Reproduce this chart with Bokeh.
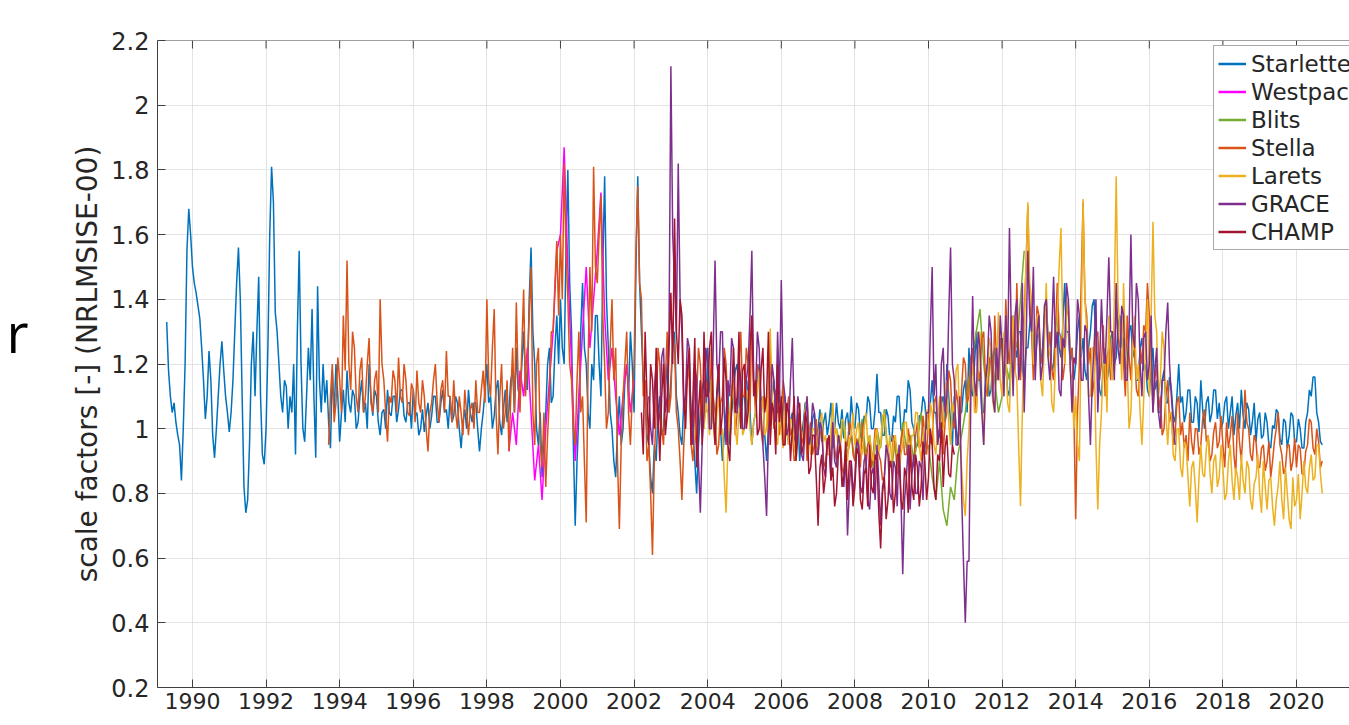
from bokeh.plotting import figure
from bokeh.models import Range1d, FixedTicker, Legend, Span, LinearAxis
from bokeh.embed import file_html
from bokeh.resources import INLINE

# ---------------- data ----------------
x_ticks = [1990, 1992, 1994, 1996, 1998, 2000, 2002, 2004, 2006, 2008, 2010,
           2012, 2014, 2016, 2018, 2020]
y_ticks = [0.2, 0.4, 0.6, 0.8, 1.0, 1.2, 1.4, 1.6, 1.8, 2.0, 2.2]
y_tick_labels = ["0.2", "0.4", "0.6", "0.8", "1", "1.2", "1.4", "1.6", "1.8", "2", "2.2"]

series_names = ["Starlette", "Westpac", "Blits", "Stella", "Larets", "GRACE", "CHAMP"]
series_colors = ["#0072BD", "#FF00FF", "#77AC30", "#D95319", "#EDB120", "#7E2F8E", "#A2142F"]

# Starlette: from 1989.30, every 0.05 year
starlette_start, starlette_step = 1989.3, 0.05
starlette = [
    1.33, 1.18, 1.10, 1.05, 1.08, 1.02, 0.98, 0.95, 0.84, 1.00, 1.20, 1.55, 1.68, 1.60,
    1.50, 1.45, 1.42, 1.38, 1.34, 1.25, 1.15, 1.03, 1.10, 1.24, 1.15, 0.98, 0.91, 1.00, 1.10, 1.20, 1.27, 1.18, 1.10, 1.05,
    0.99, 1.05, 1.15, 1.30, 1.45, 1.56, 1.40, 1.10, 0.82, 0.74, 0.78, 0.95, 1.20, 1.30, 1.10, 1.30, 1.47, 1.10, 0.92, 0.89,
    1.00, 1.25, 1.60, 1.81, 1.70, 1.36, 1.30, 1.20, 1.10, 1.05, 1.15, 1.13, 1.00, 1.10, 1.05, 1.20, 0.92, 1.30, 1.55, 1.20,
    1.00, 0.96, 1.10, 1.25, 1.15, 1.37, 1.10, 0.91, 1.44, 1.15, 1.05, 1.20, 1.08, 1.15, 1.02, 0.94, 1.18, 1.05, 1.20, 1.10,
    0.96, 1.05, 1.12, 1.02, 1.18, 1.08, 1.05, 1.12, 1.10, 1.00, 1.02, 1.10, 1.15, 1.05, 1.08, 1.00, 1.20, 1.10, 1.04, 1.12,
    1.10, 1.02, 0.98, 1.05, 1.06, 1.00, 1.12, 1.05, 1.04, 1.10, 1.10, 1.02, 1.06, 1.12, 1.12, 1.04, 1.02, 1.08, 1.08, 1.00,
    1.12, 1.04, 1.05, 0.98, 1.00, 1.06, 0.99, 1.04, 1.08, 1.00, 1.04, 1.10, 1.10, 1.02, 1.02, 1.08, 1.12, 1.05, 1.06, 1.00,
    1.10, 1.02, 1.04, 1.10, 1.08, 1.00, 0.94, 1.02, 1.06, 1.00, 1.12, 1.05, 1.02, 1.08, 1.08, 1.00, 0.93, 1.00, 1.05, 1.12,
    1.20, 1.08, 1.10, 1.00, 1.04, 1.12, 1.15, 1.02, 0.98, 1.06, 1.12, 1.02, 1.06, 1.15, 1.18, 1.05, 1.25, 1.12, 1.10, 1.20,
    1.30, 1.15, 1.12, 1.40, 1.56, 1.30, 1.20, 1.00, 0.95, 1.05, 0.85, 0.98, 1.05, 1.20, 1.25, 1.08, 1.10, 1.25, 1.35, 1.20,
    1.40, 1.25, 1.20, 1.55, 1.80, 1.45, 1.30, 0.95, 0.70, 0.90, 1.05, 1.30, 1.45, 1.25, 1.20, 1.05, 1.00, 1.20, 1.15, 1.35,
    1.35, 1.20, 1.10, 1.50, 1.78, 1.40, 1.25, 1.05, 1.00, 0.90, 0.85, 1.00, 1.10, 0.95, 1.00, 1.15, 1.20, 1.10, 1.30, 1.20,
    1.05, 1.50, 1.78, 1.45, 1.30, 1.15, 1.10, 0.98, 0.95, 0.85, 0.80, 0.95, 0.90, 1.05, 1.10, 0.98, 1.00, 1.12, 1.20, 1.05,
    1.15, 1.25, 1.30, 1.10, 1.05, 0.98, 0.95, 1.08, 1.10, 1.18, 1.20, 1.05, 1.00, 0.90, 0.80, 0.95, 1.05, 1.12, 1.15, 1.05,
    1.25, 1.12, 1.10, 1.02, 1.00, 1.10, 1.15, 1.00, 0.90, 0.98, 1.05, 1.12, 0.95, 1.05, 1.10, 1.18, 1.20, 1.08, 1.00, 1.10,
    1.10, 1.02, 1.15, 1.05, 0.95, 1.02, 1.05, 1.15, 1.20, 1.08, 1.10, 0.98, 0.90, 1.00, 1.00, 1.10, 1.15, 1.05, 1.05, 1.12,
    1.00, 1.08, 1.10, 1.00, 0.95, 1.02, 1.05, 0.96, 0.98, 1.05, 0.90, 0.98, 1.02, 1.08, 1.08, 1.00, 0.95, 1.03, 1.05, 0.98,
    1.00, 1.06, 0.96, 1.02, 1.05, 0.98, 1.02, 1.08, 0.94, 1.00, 1.08, 1.02, 1.00, 1.06, 0.97, 1.03, 1.05, 0.98, 1.10, 1.02,
    1.00, 1.08, 1.06, 0.98, 0.96, 1.04, 1.02, 1.10, 1.08, 1.00, 1.00, 1.06, 1.17, 1.05, 1.05, 0.98, 0.98, 1.06, 1.04, 0.97,
    0.96, 1.04, 1.02, 1.10, 1.10, 1.00, 0.98, 1.06, 1.05, 1.15, 1.12, 1.02, 1.00, 0.94, 0.95, 1.04, 1.04, 1.10, 1.08, 1.00,
    1.00, 1.08, 1.15, 1.05, 1.05, 0.96, 0.98, 1.08, 1.10, 1.02, 1.20, 1.10, 1.02, 0.95, 1.10, 1.00, 0.95, 1.05, 1.05, 1.12,
    1.15, 1.05, 1.25, 1.12, 1.10, 1.20, 1.30, 1.15, 1.15, 1.05, 1.05, 1.15, 1.20, 1.10, 1.12, 1.22, 1.25, 1.15, 1.18, 1.25,
    1.28, 1.18, 1.20, 1.12, 1.10, 1.22, 1.35, 1.25, 1.22, 1.30, 1.30, 1.18, 1.15, 1.25, 1.25, 1.32, 1.38, 1.25, 1.20, 1.28,
    1.30, 1.20, 1.25, 1.35, 1.40, 1.28, 1.28, 1.18, 1.20, 1.30, 1.35, 1.25, 1.22, 1.32, 1.45, 1.30, 1.30, 1.20, 1.25, 1.15,
    1.20, 1.30, 1.35, 1.22, 1.28, 1.18, 1.15, 1.25, 1.30, 1.38, 1.40, 1.25, 1.20, 1.12, 1.10, 1.20, 1.25, 1.15, 1.18, 1.28,
    1.30, 1.20, 1.22, 1.32, 1.35, 1.25, 1.28, 1.18, 1.20, 1.30, 1.32, 1.22, 1.25, 1.15, 1.15, 1.25, 1.28, 1.18, 1.20, 1.12,
    1.10, 1.20, 1.25, 1.12, 1.15, 1.05, 1.05, 1.15, 1.18, 1.08, 1.08, 1.16, 1.12, 1.04, 1.02, 1.10, 1.20, 1.08, 1.10, 1.02,
    1.05, 1.12, 1.12, 1.02, 1.02, 1.10, 1.08, 0.99, 1.15, 1.06, 1.00, 1.08, 1.10, 1.02, 1.05, 1.12, 1.12, 1.03, 1.08, 1.00,
    1.02, 1.08, 1.10, 1.00, 1.05, 1.10, 0.98, 1.04, 1.08, 1.00, 1.12, 1.04, 1.00, 1.08, 1.06, 0.98, 1.02, 1.08, 0.96, 1.03,
    1.05, 0.97, 0.98, 1.05, 1.02, 0.95, 0.94, 1.01, 1.00, 1.06, 1.05, 0.97, 0.95, 1.03, 1.02, 0.94, 0.98, 1.05, 1.04, 0.96,
    0.96, 1.03, 1.00, 0.94, 0.94, 1.02, 1.05, 1.12, 1.10, 1.16, 1.16, 1.05, 1.02, 0.96, 0.95,
]

# Westpac: from 1998.6, every 0.1 year
westpac_start, westpac_step = 1998.6, 0.1
westpac = [
    0.93, 1.05, 0.95, 1.18,
    1.10, 1.25, 1.05, 0.84, 0.95, 0.78, 1.00, 1.15, 1.30, 1.55,
    1.60, 1.87, 1.50, 1.20, 0.90, 1.10, 1.30, 1.50, 1.25, 1.40,
    1.55, 1.73, 1.35, 1.15, 1.25, 1.10, 0.98, 1.10, 1.20, 1.05,
    1.15,
]

# Blits: from 2007.5, every 0.1 year
blits_start, blits_step = 2007.5, 0.1
blits = [
    1.00, 0.95, 1.02, 0.92, 0.98,
    0.90, 0.96, 1.03, 0.92, 0.98, 0.88, 1.00, 0.94, 1.06, 0.92,
    0.88, 0.96, 0.90, 1.02, 0.94, 0.98, 0.90, 0.96, 1.05, 0.92,
    0.95, 0.85, 0.78, 0.90, 0.75, 0.70, 0.82, 0.78, 0.92, 0.98,
    1.05, 1.15, 1.22, 1.30, 1.37, 1.20, 1.10, 1.25, 1.15, 1.05,
    1.10, 1.20, 1.15, 1.30, 1.25, 1.40, 1.55,
]

# Stella: from 1993.7, every 0.05 year
stella_start, stella_step = 1993.7, 0.05
stella = [
    0.95, 1.10, 1.20, 1.02, 1.08, 1.22,
    1.15, 1.05, 1.35, 1.18, 1.52, 1.20, 1.12, 1.30, 1.25, 1.10, 1.05, 1.18, 1.22, 1.05, 1.10, 1.20, 1.28, 1.08, 1.05, 1.15,
    1.18, 1.05, 1.40, 1.20, 1.15, 1.05, 0.96, 1.10, 1.08, 1.18, 1.15, 1.05, 1.22, 1.10, 1.08, 1.20, 1.15, 1.05, 1.04, 1.14,
    1.12, 1.02, 1.18, 1.08, 1.05, 1.15, 1.10, 1.00, 0.93, 1.05, 1.08, 1.15, 1.20, 1.08, 1.02, 1.12, 1.15, 1.05, 1.24, 1.10,
    1.10, 1.02, 1.15, 1.05, 1.00, 1.10, 1.05, 0.98, 1.12, 1.05, 0.98, 1.06, 1.08, 1.00, 1.15, 1.05, 1.05, 1.12, 1.18, 1.08,
    1.40, 1.15, 1.10, 1.25, 1.37, 1.05, 0.92, 1.10, 1.20, 1.00, 1.05, 1.15, 0.93, 1.10, 1.25, 1.05, 1.39, 1.15, 1.05, 1.25,
    1.43, 1.10, 1.20, 1.35, 1.50, 1.05, 0.95, 1.20, 1.25, 0.95, 0.88, 1.05, 0.82, 0.98, 1.10, 1.30, 1.30, 1.45, 1.58, 1.35,
    1.60, 1.40, 1.82, 1.55, 1.40, 1.20, 1.15, 1.00, 0.95, 1.15, 1.30, 1.05, 1.10, 0.90, 0.71, 1.20, 1.50, 1.30, 1.81, 1.50,
    1.45, 1.60, 1.72, 1.35, 1.20, 1.00, 1.05, 1.25, 1.40, 1.15, 1.25, 0.90, 0.69, 0.95, 1.10, 1.20, 1.30, 1.05, 0.95, 1.10,
    1.20, 1.55, 1.75, 1.45, 1.40, 1.10, 1.15, 0.90, 0.95, 0.80, 0.61, 0.90, 1.05, 1.25, 1.20, 1.00, 0.95, 1.15, 1.30, 1.05,
    1.10, 1.30, 1.25, 1.05, 1.00, 0.90, 0.78, 0.95, 1.05, 1.20, 1.15, 0.95, 0.90, 1.05, 1.10, 1.25, 1.20, 1.05, 1.00, 1.12,
    1.15, 1.00, 1.25, 1.10, 1.05, 0.92, 0.95, 1.08, 1.10, 1.25, 1.20, 1.05, 1.00, 1.12, 1.15, 0.98, 1.05, 1.20, 1.30, 1.10,
    1.10, 1.25, 1.20, 1.05, 1.35, 1.15, 1.05, 1.20, 1.15, 1.00, 0.95, 1.08, 1.10, 0.98, 1.25, 1.10, 1.00, 1.12, 1.10, 0.98,
    1.05, 1.15, 0.95, 1.05, 1.10, 0.98, 1.00, 0.90, 0.92, 1.02, 1.05, 0.95, 0.98, 1.06, 0.90, 0.98, 1.02, 0.92, 0.95, 1.03,
    0.92, 0.98, 1.00, 0.90, 0.88, 0.96, 0.95, 0.88, 1.02, 0.94, 0.90, 0.98, 0.97, 0.88, 0.86, 0.94, 0.95, 1.02, 1.00, 0.92,
    0.90, 0.97, 0.95, 0.88, 1.02, 0.94, 0.88, 0.95, 0.96, 0.88, 0.92, 1.00, 1.00, 0.92, 0.90, 0.84, 0.85, 0.93, 0.95, 0.88,
    0.90, 0.98, 0.95, 0.86, 0.88, 0.96, 1.00, 0.92, 0.92, 1.00, 0.96, 0.88, 0.90, 0.98, 1.02, 0.94, 0.95, 1.04, 0.98, 0.92,
    1.05, 0.96, 0.95, 1.08, 1.10, 0.98, 1.00, 1.10, 0.92, 1.02, 1.05, 1.18, 1.15, 1.02, 1.00, 1.12, 1.08, 0.98, 1.12, 1.22,
    1.20, 1.08, 1.10, 1.22, 1.25, 1.12, 1.05, 1.18, 1.15, 1.28, 1.30, 1.15, 1.10, 1.22, 1.20, 1.08, 1.35, 1.20, 1.15, 1.28,
    1.25, 1.12, 1.40, 1.25, 1.20, 1.35, 1.30, 1.18, 1.45, 1.25, 1.15, 1.30, 1.35, 1.50, 1.69, 1.40, 1.30, 1.15, 1.25, 1.38,
    1.35, 1.22, 1.20, 1.32, 1.40, 1.25, 1.30, 1.18, 1.15, 1.30, 1.45, 1.30, 1.28, 1.15, 1.20, 1.35, 1.38, 1.22, 1.25, 1.05,
    0.72, 1.05, 1.20, 1.45, 1.70, 1.40, 1.35, 1.20, 1.25, 1.10, 1.15, 1.28, 1.30, 1.15, 1.20, 1.32, 1.10, 1.22, 1.25, 1.15,
    1.30, 1.18, 1.40, 1.28, 1.25, 1.35, 1.20, 1.10, 1.35, 1.22, 1.15, 1.30, 1.25, 1.12, 1.10, 1.25, 1.20, 1.32, 1.30, 1.45,
    1.35, 1.18, 1.05, 1.15, 1.20, 1.05, 1.10, 0.98, 1.00, 1.10, 1.15, 1.02, 1.05, 0.95, 0.98, 1.08, 1.10, 0.98, 1.02, 0.94,
    0.98, 0.90, 1.05, 0.96, 0.92, 1.00, 1.00, 0.92, 0.95, 1.03, 1.06, 0.96, 0.98, 0.90, 0.92, 0.99, 1.02, 0.94, 0.96, 1.04,
    0.95, 0.88, 1.02, 0.94, 0.98, 1.04, 0.92, 0.86, 1.05, 0.96, 0.90, 1.00, 1.12, 1.02, 1.00, 0.92, 0.90, 0.98, 0.96, 0.88,
    0.88, 0.94, 0.95, 0.87, 0.90, 0.96, 0.85, 0.90, 0.96, 1.00, 1.05, 0.95, 0.92, 0.86, 0.88, 0.95, 0.95, 0.87, 0.90, 0.97,
    0.88, 0.95, 0.94, 0.86, 0.86, 0.93, 0.95, 1.03, 1.02, 0.94, 0.92, 1.00, 0.96, 0.88, 0.90,
]

# Larets: from 2003.6, every 0.05 year
larets_start, larets_step = 2003.6, 0.05
larets = [
    1.05, 0.98, 0.95, 1.08, 1.10, 1.00, 1.00, 1.08,
    1.05, 0.98, 1.15, 1.02, 0.95, 1.05, 1.10, 0.98, 1.00, 0.85, 0.74, 0.95, 1.05, 1.12, 1.15, 1.00, 0.95, 1.05, 1.08, 0.98,
    1.00, 1.08, 1.12, 1.00, 0.95, 1.02, 1.05, 1.12, 1.18, 1.05, 1.10, 0.98, 1.00, 1.15, 1.31, 1.10, 1.05, 0.98, 0.95, 1.05,
    1.00, 0.94, 1.08, 1.00, 0.95, 1.03, 1.02, 0.95, 0.90, 0.98, 1.05, 0.97, 0.98, 1.06, 1.10, 0.98, 0.92, 1.00, 1.00, 0.94,
    0.95, 1.02, 1.05, 0.96, 0.98, 0.92, 0.92, 1.00, 1.08, 0.98, 1.00, 0.93, 0.95, 1.03, 1.02, 0.94, 0.90, 0.97, 0.98, 1.05,
    0.95, 1.00, 1.02, 0.94, 0.92, 1.00, 1.05, 0.96, 0.98, 0.92, 0.90, 0.97, 1.00, 0.93, 0.95, 1.04, 1.05, 0.97, 0.92, 0.98,
    0.90, 0.96, 0.98, 0.90, 0.85, 0.92, 0.95, 1.02, 1.02, 0.94, 0.92, 0.98, 0.98, 1.05, 1.05, 0.95, 0.90, 0.97, 1.00, 1.06,
    0.98, 1.08, 1.05, 0.95, 0.92, 1.02, 1.10, 1.00, 1.00, 1.12, 1.15, 1.02, 0.95, 1.08, 1.05, 1.18, 1.20, 1.00, 0.88, 0.78,
    0.73, 0.90, 1.00, 1.15, 1.20, 1.05, 1.05, 1.20, 1.30, 1.10, 0.95, 1.12, 1.15, 1.28, 1.25, 1.08, 1.05, 1.20, 1.36, 1.15,
    1.10, 1.30, 1.25, 1.08, 1.05, 1.22, 1.35, 1.18, 1.15, 0.95, 0.76, 1.05, 1.30, 1.50, 1.70, 1.45, 1.40, 1.20, 1.20, 1.35,
    1.30, 1.15, 1.10, 1.28, 1.45, 1.22, 1.25, 1.08, 1.05, 1.20, 1.35, 1.50, 1.62, 1.30, 1.20, 1.35, 1.40, 1.18, 1.15, 1.00,
    1.10, 0.95, 0.90, 1.30, 1.71, 1.40, 1.30, 1.10, 1.10, 1.25, 1.25, 0.95, 0.75, 0.95, 1.05, 1.20, 1.20, 1.05, 1.35, 1.20,
    1.15, 1.40, 1.78, 1.40, 1.30, 1.15, 1.45, 1.25, 1.20, 1.00, 1.05, 1.25, 1.35, 1.15, 1.20, 1.05, 0.95, 1.10, 1.25, 1.40,
    1.10, 1.35, 1.64, 1.35, 1.30, 1.10, 1.15, 1.30, 1.25, 1.05, 0.95, 1.05, 1.05, 0.92, 0.90, 1.00, 1.00, 0.88, 0.85, 0.96,
    0.95, 0.85, 0.76, 0.88, 0.90, 0.82, 0.71, 0.85, 0.95, 0.86, 0.85, 0.94, 0.98, 0.86, 0.80, 0.90, 0.92, 0.82, 0.85, 0.95,
    0.88, 0.78, 0.80, 0.90, 0.95, 0.84, 0.78, 0.88, 0.85, 0.78, 0.92, 0.84, 0.80, 0.90, 0.88, 0.78, 0.75, 0.83, 0.85, 0.92,
    0.80, 0.74, 0.90, 0.82, 0.75, 0.84, 0.85, 0.76, 0.70, 0.78, 0.82, 0.90, 0.78, 0.72, 0.88, 0.80, 0.72, 0.69, 0.85, 0.76,
    0.78, 0.86, 0.72, 0.80, 0.90, 0.82, 0.80, 0.88, 0.92, 0.84, 0.85, 0.95, 0.95, 0.86, 0.80,
]

# GRACE: from 2002.4, every 0.05 year
grace_start, grace_step = 2002.4, 0.05
grace = [
    1.10, 1.00, 0.95, 1.12, 1.20, 1.00, 1.05, 1.22, 1.25, 1.05, 1.10, 1.30,
    2.12, 1.60, 1.45, 1.30, 1.82, 1.40, 1.30, 1.05, 1.10, 1.28, 1.25, 1.00, 0.95, 1.20, 1.15, 0.90, 0.74, 0.95, 1.05, 1.25,
    1.20, 1.00, 1.00, 1.25, 1.52, 1.20, 1.15, 1.30, 1.30, 1.05, 0.95, 1.15, 1.10, 1.28, 1.25, 1.05, 1.05, 1.20, 1.15, 1.00,
    1.00, 1.15, 1.20, 1.35, 1.55, 1.15, 1.10, 1.30, 1.25, 1.05, 0.95, 0.85, 0.73, 0.98, 1.05, 1.20, 1.15, 1.02, 1.30, 1.10,
    1.46, 1.15, 1.10, 0.98, 1.00, 1.15, 1.28, 1.05, 0.95, 1.10, 1.05, 0.92, 0.90, 1.02, 1.10, 0.95, 0.98, 1.08, 1.05, 0.92,
    0.92, 1.02, 1.00, 0.88, 0.85, 0.97, 0.95, 0.84, 1.02, 0.90, 0.88, 0.98, 0.95, 0.85, 0.82, 0.92, 0.67, 0.82, 0.90, 0.80,
    0.85, 0.96, 0.95, 0.82, 0.80, 0.90, 0.92, 0.78, 0.75, 0.86, 0.88, 0.78, 0.95, 0.84, 0.70, 0.82, 0.85, 0.95, 0.92, 0.80,
    0.78, 0.90, 0.88, 0.76, 0.95, 0.80, 0.55, 0.78, 0.85, 0.95, 0.75, 0.86, 0.92, 0.80, 0.80, 0.90, 0.88, 0.78, 0.95, 1.05,
    1.05, 1.30, 1.50, 1.10, 1.20, 0.95, 1.00, 1.20, 1.25, 1.05, 1.10, 1.35, 1.56, 1.20, 1.15, 0.95, 0.95, 1.10, 0.80, 0.59,
    0.40, 0.59, 0.59, 1.10, 1.41, 1.15, 1.10, 1.30, 1.25, 1.05, 0.95, 1.15, 1.20, 1.35, 1.30, 1.10, 1.05, 1.25, 1.15, 1.35,
    1.25, 1.10, 1.35, 1.20, 1.62, 1.30, 1.10, 1.35, 1.40, 1.15, 1.20, 1.45, 1.05, 1.25, 1.55, 1.35, 1.30, 1.50, 1.15, 1.30,
    1.35, 1.15, 1.20, 1.38, 1.40, 1.22, 1.15, 1.30, 1.47, 1.25, 1.30, 1.12, 1.10, 1.28, 1.25, 1.45, 1.40, 1.20, 1.05, 1.22,
    1.20, 1.40, 1.35, 1.15, 1.15, 1.32, 1.30, 1.10, 0.95, 1.15, 1.25, 1.40, 1.05, 1.20, 1.40, 1.25, 1.20, 1.35, 1.53, 1.30,
    1.30, 1.15, 1.45, 1.25, 1.20, 1.38, 1.35, 1.15, 1.15, 1.30, 1.60, 1.30, 1.25, 1.45, 1.40, 1.20, 1.10, 1.28, 1.30, 1.15,
    1.20, 1.35, 1.05, 1.18, 1.25, 1.05, 1.00, 1.15, 1.15, 1.30, 1.39, 1.20, 1.10, 1.02, 0.95,
]

# CHAMP: from 2002.2, every 0.05 year
champ_start, champ_step = 2002.2, 0.05
champ = [
    1.05, 0.92, 1.30, 1.10, 0.95, 1.20, 1.15, 1.00, 1.25, 1.05, 0.90, 1.10, 1.20, 0.98, 1.05, 1.25,
    1.42, 1.20, 1.65, 1.30, 1.20, 1.40, 1.35, 1.10, 1.00, 1.18, 1.25, 0.95, 1.10, 1.28, 0.88, 1.05, 1.15, 0.95, 1.30, 1.10,
    1.10, 1.25, 1.30, 1.05, 0.95, 1.12, 1.20, 0.98, 1.05, 1.22, 1.15, 0.95, 0.90, 1.08, 1.25, 1.05, 1.10, 1.30, 1.00, 1.18,
    1.20, 1.00, 1.05, 1.25, 1.35, 1.10, 1.15, 0.98, 1.00, 1.18, 1.25, 1.05, 1.10, 1.30, 0.95, 1.08, 1.05, 0.92, 1.20, 1.02,
    1.10, 0.95, 0.95, 1.08, 1.05, 0.90, 1.00, 1.10, 0.90, 0.98, 1.08, 0.92, 0.95, 1.05, 1.02, 0.86, 0.88, 0.98, 0.98, 0.85,
    0.70, 0.88, 0.92, 0.80, 0.85, 0.96, 0.98, 0.84, 0.88, 0.76, 0.80, 0.92, 0.95, 0.82, 0.85, 0.96, 0.78, 0.90, 0.90, 0.76,
    0.82, 0.94, 0.92, 0.78, 0.75, 0.86, 0.88, 0.76, 0.95, 0.82, 0.80, 0.92, 0.90, 0.74, 0.63, 0.80, 0.85, 0.72, 0.78, 0.90,
    0.88, 0.74, 0.80, 0.92, 0.92, 0.78, 0.75, 0.88, 0.85, 0.74, 0.95, 0.82, 0.78, 0.92, 0.88, 0.76, 0.82, 0.96, 0.90, 0.78,
    0.85, 1.00, 0.95, 0.82, 0.78, 0.92, 0.90, 1.02, 0.82, 0.94, 0.98, 0.86, 0.85, 0.95, 0.92,
]

series_starts = [starlette_start, westpac_start, blits_start, stella_start,
                 larets_start, grace_start, champ_start]
series_steps = [starlette_step, westpac_step, blits_step, stella_step,
                larets_step, grace_step, champ_step]
series_values = [starlette, westpac, blits, stella, larets, grace, champ]

# ---------------- figure ----------------
TXT = "#262626"
AX = "#404040"
FONT = "DejaVu Sans"

p = figure(width=1349, height=725,
           x_range=Range1d(1989.05, 2021.44), y_range=Range1d(0.2, 2.2),
           output_backend="svg", toolbar_location=None,
           min_border_left=157, min_border_right=0,
           min_border_top=40, min_border_bottom=38)
p.outline_line_color = None
p.background_fill_color = "white"
p.border_fill_color = "white"

xt = FixedTicker(ticks=x_ticks)
yt = FixedTicker(ticks=y_ticks)
p.xaxis.ticker = xt
p.yaxis.ticker = yt
p.xgrid.ticker = xt
p.ygrid.ticker = yt
p.yaxis.major_label_overrides = dict(zip(y_ticks, y_tick_labels))

for ax in (p.xaxis[0], p.yaxis[0]):
    ax.axis_line_color = AX
    ax.axis_line_width = 1
    ax.major_tick_line_color = AX
    ax.major_tick_in = 8
    ax.major_tick_out = 0
    ax.minor_tick_in = 0
    ax.minor_tick_out = 0
    ax.major_label_text_font = FONT
    ax.major_label_text_color = TXT

p.xaxis.major_label_text_font_size = "22px"
p.yaxis.major_label_text_font_size = "24px"
p.xaxis.major_label_standoff = 5
p.yaxis.major_label_standoff = 8
p.yaxis.axis_label = "scale factors [-] (NRLMSISE-00)"
p.yaxis.axis_label_text_font = FONT
p.yaxis.axis_label_text_font_size = "28px"
p.yaxis.axis_label_text_font_style = "normal"
p.yaxis.axis_label_text_color = TXT
p.yaxis.axis_label_standoff = 4

# the large cut-off letter at the far left of the slide (drawn as the single
# label of an otherwise invisible outer axis so that it sits left of the frame)
r_pos = 1.30
r_axis = LinearAxis(ticker=FixedTicker(ticks=[r_pos]),
                    major_label_overrides={r_pos: "r"},
                    major_label_text_font="Open Sans",
                    major_label_text_font_size="54px",
                    major_label_text_color="black",
                    major_label_standoff=40,
                    major_tick_in=0, major_tick_out=0,
                    minor_tick_in=0, minor_tick_out=0,
                    axis_line_color=None, major_tick_line_color=None,
                    minor_tick_line_color=None)
p.add_layout(r_axis, "left")

for g in (p.xgrid[0], p.ygrid[0]):
    g.grid_line_color = "#e3e3e3"
    g.grid_line_width = 1

# top box edge with inward ticks
p.add_layout(Span(location=y_ticks[-1], dimension="width", line_color=AX, line_width=1))
tick_len = 8 / 323.5
p.segment(x0=x_ticks, y0=[y_ticks[-1]] * len(x_ticks),
          x1=x_ticks, y1=[y_ticks[-1] - tick_len] * len(x_ticks),
          line_color=AX, line_width=1)

items = []
for name, color, start, step, vals in zip(series_names, series_colors, series_starts,
                                          series_steps, series_values):
    xs = [round(start + step * i, 3) for i in range(len(vals))]
    p.line(xs, vals, line_color=color, line_width=1.5)
    # single-point line: draws nothing in the plot, gives a thicker legend key
    key = p.line(xs[:1], vals[:1], line_color=color, line_width=2.5)
    items.append((name, [key]))

legend = Legend(items=items, location=(1056, 437),
                label_text_font=FONT, label_text_font_size="23px",
                label_text_color=TXT,
                glyph_width=28, glyph_height=27, label_height=27,
                label_standoff=5, spacing=1, padding=4, margin=0,
                border_line_color="#555555", border_line_width=1,
                background_fill_color="white", background_fill_alpha=1)
p.add_layout(legend)

open("out.html", "w").write(file_html(p, INLINE))
